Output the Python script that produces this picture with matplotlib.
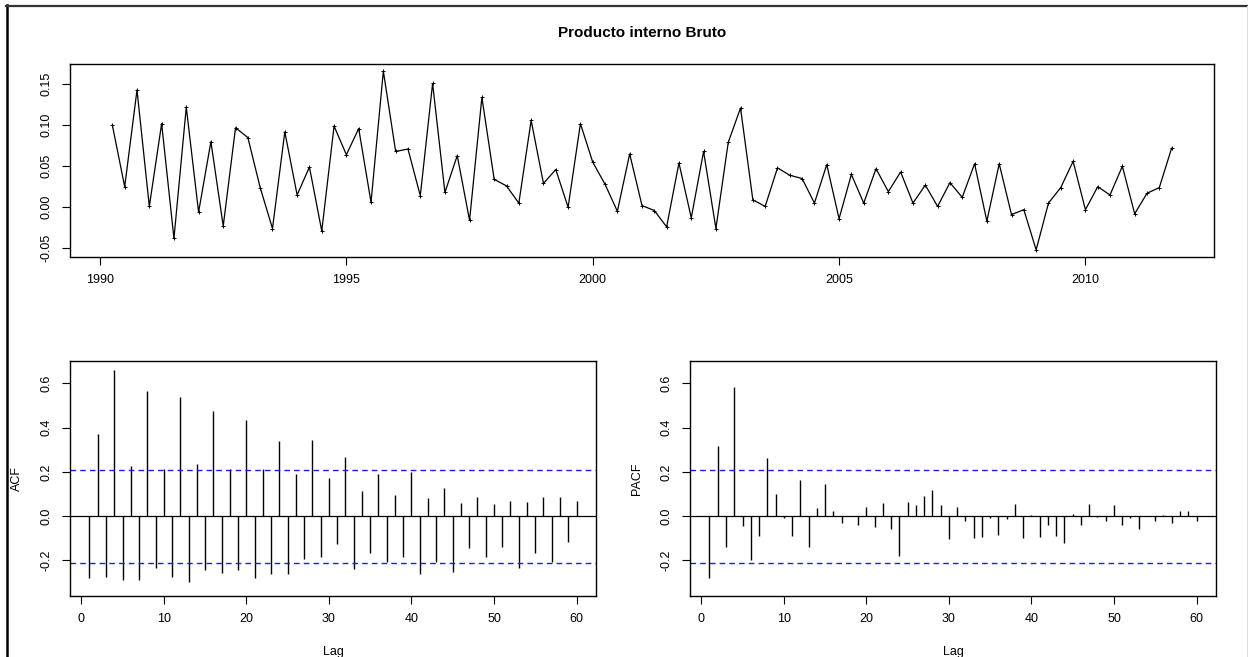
import numpy as np
import matplotlib
matplotlib.use("Agg")
import matplotlib.pyplot as plt
from matplotlib.lines import Line2D

plt.rcParams['font.family'] = ['Liberation Sans', 'DejaVu Sans']

# quarterly series, 1990 Q2 .. 2011 Q4
start_year = 1990.25
pib = [0.100, 0.025, 0.143, 0.001, 0.102, -0.038, 0.122, -0.006, 0.080, -0.023,
       0.097, 0.085, 0.024, -0.026, 0.092, 0.015, 0.049, -0.029, 0.099, 0.064,
       0.096, 0.006, 0.166, 0.068, 0.071, 0.014, 0.151, 0.018, 0.063, -0.016,
       0.134, 0.034, 0.026, 0.005, 0.106, 0.029, 0.046, -0.000, 0.102, 0.055,
       0.028, -0.005, 0.065, 0.002, -0.004, -0.024, 0.054, -0.013, 0.068, -0.026,
       0.079, 0.121, 0.009, 0.001, 0.048, 0.039, 0.035, 0.005, 0.052, -0.014,
       0.040, 0.005, 0.047, 0.019, 0.043, 0.005, 0.027, 0.001, 0.030, 0.012,
       0.053, -0.017, 0.053, -0.009, -0.003, -0.052, 0.005, 0.024, 0.056, -0.003,
       0.025, 0.015, 0.050, -0.008, 0.017, 0.024, 0.072]

lags = np.arange(1, 61)
acf_vals = [-0.281, 0.372, -0.274, 0.662, -0.287, 0.226, -0.287, 0.564, -0.233, 0.214,
            -0.274, 0.537, -0.296, 0.235, -0.242, 0.474, -0.256, 0.215, -0.242, 0.433,
            -0.278, 0.212, -0.262, 0.340, -0.262, 0.190, -0.193, 0.345, -0.185, 0.172,
            -0.128, 0.269, -0.238, 0.113, -0.167, 0.190, -0.209, 0.095, -0.185, 0.199,
            -0.260, 0.081, -0.209, 0.126, -0.251, 0.059, -0.146, 0.086, -0.185, 0.054,
            -0.141, 0.068, -0.233, 0.063, -0.167, 0.086, -0.209, 0.086, -0.119, 0.068]
pacf_vals = [-0.281, 0.319, -0.141, 0.586, -0.044, -0.197, -0.089, 0.265, 0.099, -0.008,
             -0.089, 0.162, -0.141, 0.036, 0.146, 0.024, -0.029, 0.002, -0.038, 0.041,
             -0.047, 0.060, -0.056, -0.182, 0.065, 0.050, 0.090, 0.117, 0.050, -0.104,
             0.041, -0.024, -0.101, -0.096, -0.008, -0.083, -0.015, 0.054, -0.101, 0.005,
             -0.096, -0.042, -0.092, -0.123, 0.011, -0.042, 0.054, -0.006, -0.021, 0.050,
             -0.042, -0.008, -0.060, 0.001, -0.021, 0.005, -0.029, 0.024, 0.024, -0.024]

W, H = 1248, 657
fig = plt.figure(figsize=(W / 100, H / 100), dpi=100)


def box(l, t, r, b):
    return [l / W, 1 - b / H, (r - l) / W, (b - t) / H]


def r_style(ax):
    for s in ax.spines.values():
        s.set_linewidth(1.0)
    ax.tick_params(direction='out', length=5.5, width=0.8, labelsize=9, pad=7)
    for lab in ax.get_yticklabels():
        lab.set_rotation(90)
        lab.set_va('center')


def pad4(lo, hi):
    d = (hi - lo) * 0.04
    return lo - d, hi + d


# time series panel
t = start_year + np.arange(len(pib)) / 4
ax = fig.add_axes(box(70, 64, 1214, 257))
ax.plot(t, pib, color='black', lw=0.9, marker='+', ms=2.5, mew=0.7)
ax.set_xlim(*pad4(t[0], t[-1]))
ax.set_ylim(*pad4(min(pib), max(pib)))
ax.set_xticks([1990, 1995, 2000, 2005, 2010])
ax.set_yticks([-0.05, 0.0, 0.05, 0.10, 0.15])
ax.set_yticklabels(['-0.05', '0.00', '0.05', '0.10', '0.15'])
r_style(ax)
fig.text(642 / W, 1 - 33 / H, 'Producto interno Bruto', ha='center', va='center',
         fontsize=11, fontweight='bold')

# correlogram panels share the same y range
ci = 1.96 / np.sqrt(len(pib))
lim = 3 / np.sqrt(len(pib))
ylo, yhi = pad4(min(-lim, min(acf_vals), min(pacf_vals)),
                max(lim, max(acf_vals), max(pacf_vals)))

for (l, r), vals, name, ylab_x in [((70, 596), acf_vals, 'ACF', 17),
                                    ((690, 1216), pacf_vals, 'PACF', 637)]:
    a = fig.add_axes(box(l, 361, r, 596))
    a.vlines(lags, 0, vals, color='black', lw=1.0)
    a.axhline(0, color='black', lw=0.9)
    for c in (ci, -ci):
        a.axhline(c, color='#1a1aff', lw=1.0, ls=(0, (4, 3)))
    a.set_xlim(*pad4(lags[0], lags[-1]))
    a.set_ylim(ylo, yhi)
    a.set_xticks([0, 10, 20, 30, 40, 50, 60])
    a.set_yticks([-0.2, 0.0, 0.2, 0.4, 0.6])
    a.set_yticklabels(['-0.2', '0.0', '0.2', '0.4', '0.6'])
    r_style(a)
    a.set_ylabel(name, fontsize=9, va='center')
    a.yaxis.set_label_coords((ylab_x - l) / (r - l), 0.5)
    a.set_xlabel('Lag', fontsize=9, va='center')
    a.xaxis.set_label_coords(0.5, (596 - 652) / 235)

# frame lines around the window
fig.add_artist(Line2D([6.5 / W, 6.5 / W], [0, 1 - 5 / H], color='black', lw=1.8))
fig.add_artist(Line2D([6 / W, 1], [1 - 6 / H, 1 - 6 / H], color='#333333', lw=1.6))
fig.add_artist(Line2D([1247 / W, 1247 / W], [0, 1 - 6 / H], color='#dddddd', lw=0.8))

fig.savefig('out.png', dpi=100)
